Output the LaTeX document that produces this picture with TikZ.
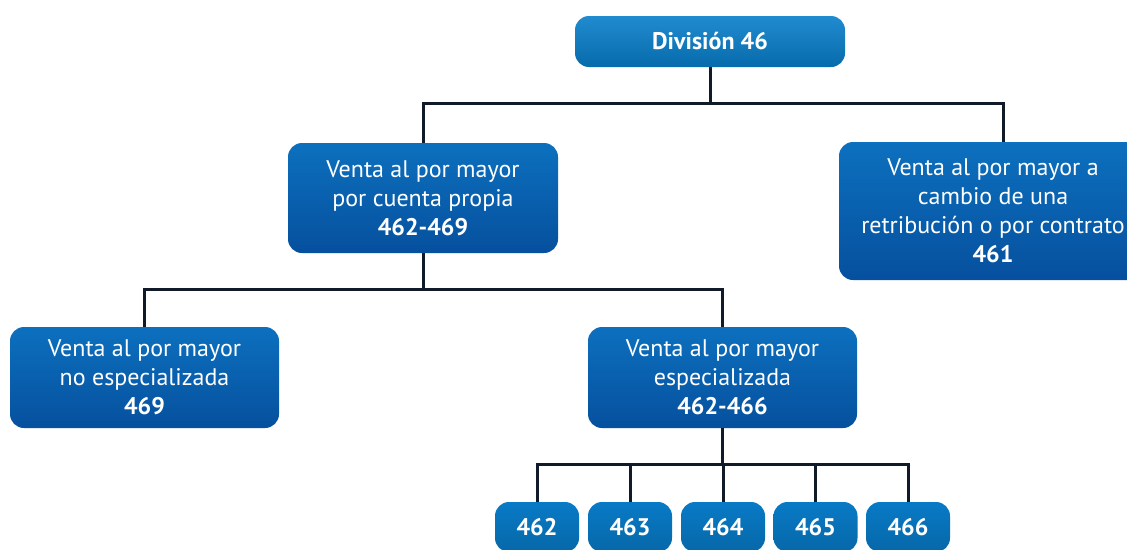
\documentclass[tikz,border=0pt]{standalone}
\usepackage{fontspec}
\setmainfont{PT Sans}
\usepackage{xcolor}
\usetikzlibrary{positioning}
\definecolor{headblue}{RGB}{8,126,202}
\definecolor{midtop}{RGB}{12,112,190}
\definecolor{midbot}{RGB}{6,80,158}
\definecolor{leafblue}{RGB}{8,122,198}
\definecolor{linecol}{RGB}{16,26,40}
\tikzset{
    box/.style={rounded corners=14pt, text=white, align=center, inner sep=0pt,
        font=\fontsize{24}{29}\selectfont}, % common look of every box
    headbox/.style={box, top color=headblue!90!white, bottom color=headblue!85!black},
    midbox/.style={box, top color=midtop, bottom color=midbot},
    leafbox/.style={box, top color=leafblue, bottom color=leafblue!85!black,
        minimum width=84pt, minimum height=50pt},
}
\tikzstyle{link} = [line width=3pt, draw=linecol]

\begin{document}
\begin{tikzpicture}[x=1pt,y=-1pt]
    \clip (0,0) rectangle (1127,549);
    % boxes
    \node[headbox, minimum width=270pt, minimum height=51pt] (div) at (710,41.5) {\textbf{División 46}};
    \node[midbox, minimum width=270pt, minimum height=110pt] (propia) at (423,198)
        {Venta al por mayor\\por cuenta propia\\\textbf{462-469}};
    \node[midbox, minimum width=308pt, minimum height=138pt] (cambio) at (993,211)
        {Venta al por mayor a\\cambio de una\\retribución o por contrato\\\textbf{461}};
    \node[midbox, minimum width=269pt, minimum height=101pt] (noesp) at (144.5,377.5)
        {Venta al por mayor\\no especializada\\\textbf{469}};
    \node[midbox, minimum width=269pt, minimum height=101pt] (esp) at (722.5,377.5)
        {Venta al por mayor\\especializada\\\textbf{462-466}};
    \foreach \n/\x in {462/537,463/630,464/723,465/815.5,466/908}
        \node[leafbox] (c\n) at (\x,527) {\textbf{\n}};
    % connectors
    \coordinate (bus1) at (0,103);
    \coordinate (bus2) at (0,289);
    \coordinate (bus3) at (0,464);
    \draw[link] (div.south) -- (div.south |- bus1);
    \draw[link] (propia.north) |- ([xshift=10pt]cambio.north |- bus1) -- ([xshift=10pt]cambio.north);
    \draw[link] (propia.south) -- (propia.south |- bus2);
    \draw[link] (noesp.north) |- (esp.north |- bus2) -- (esp.north);
    \draw[link] (esp.south) -- (esp.south |- bus3);
    \draw[link] (c462.north) |- (c466.north |- bus3) -- (c466.north);
    \foreach \n in {463,464,465}
        \draw[link] (c\n.north) -- (c\n.north |- bus3);
\end{tikzpicture}
\end{document}
